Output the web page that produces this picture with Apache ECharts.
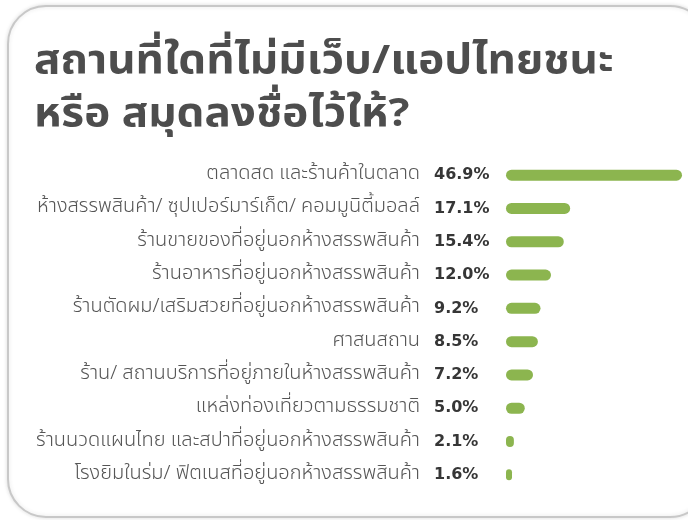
<!DOCTYPE html>
<html>
<head>
<meta charset="utf-8">
<script src="https://cdn.jsdelivr.net/npm/echarts@6/dist/echarts.min.js"></script>
<style>
html,body{margin:0;padding:0;background:#fff;}
#c{width:688px;height:520px;}
</style>
</head>
<body>
<div id="c"></div>
<script>
var titleLines = ['สถานที่ใดที่ไม่มีเว็บ/แอปไทยชนะ', 'หรือ สมุดลงชื่อไว้ให้?'];
var categories = [
  'ตลาดสด และร้านค้าในตลาด',
  'ห้างสรรพสินค้า/ ซุปเปอร์มาร์เก็ต/ คอมมูนิตี้มอลล์',
  'ร้านขายของที่อยู่นอกห้างสรรพสินค้า',
  'ร้านอาหารที่อยู่นอกห้างสรรพสินค้า',
  'ร้านตัดผม/เสริมสวยที่อยู่นอกห้างสรรพสินค้า',
  'ศาสนสถาน',
  'ร้าน/ สถานบริการที่อยู่ภายในห้างสรรพสินค้า',
  'แหล่งท่องเที่ยวตามธรรมชาติ',
  'ร้านนวดแผนไทย และสปาที่อยู่นอกห้างสรรพสินค้า',
  'โรงยิมในร่ม/ ฟิตเนสที่อยู่นอกห้างสรรพสินค้า'
];
var values = [46.9, 17.1, 15.4, 12.0, 9.2, 8.5, 7.2, 5.0, 2.1, 1.6];

var FONT = "'Noto Sans Thai','Noto Sans Thai UI','Noto Sans',sans-serif";
var chart = echarts.init(document.getElementById('c'), null, {renderer: 'canvas'});
chart.setOption({
  backgroundColor: '#ffffff',
  animation: false,
  graphic: [
    {
      type: 'rect',
      shape: {x: 8, y: 6, width: 700, height: 511, r: 38},
      style: {fill: '#ffffff', stroke: '#c8c8c8', lineWidth: 2, shadowBlur: 4, shadowColor: 'rgba(0,0,0,0.12)'},
      z: -10
    },
    {
      type: 'text', x: 34, y: 45, scaleX: 1.1, scaleY: 1,
      style: {text: titleLines[0], fontSize: 40, fontWeight: 'bold', fill: '#4d4d4d', fontFamily: FONT}
    },
    {
      type: 'text', x: 34, y: 98, scaleX: 1.1, scaleY: 1,
      style: {text: titleLines[1], fontSize: 40, fontWeight: 'bold', fill: '#4d4d4d', fontFamily: FONT}
    }
  ],
  grid: {left: 506, right: 6, top: 158.5, bottom: 28.5, containLabel: false},
  xAxis: {
    type: 'value', min: 0, max: 46.9, show: false
  },
  yAxis: {
    type: 'category', data: categories, inverse: true,
    axisLine: {show: false}, axisTick: {show: false}, splitLine: {show: false},
    axisLabel: {margin: 86, fontSize: 20, fontWeight: 300, color: '#555555', fontFamily: FONT, align: 'right'}
  },
  series: [{
    type: 'bar', data: values, barWidth: 11,
    itemStyle: {color: '#8cb54f', borderRadius: 5.5},
    label: {
      show: true, position: [-72, '50%'], align: 'left', verticalAlign: 'middle',
      formatter: function (p) { return p.value.toFixed(1) + '%'; },
      fontSize: 16, fontWeight: 'bold', color: '#363636', fontFamily: "'DejaVu Sans',sans-serif"
    }
  }]
});
</script>
</body>
</html>
